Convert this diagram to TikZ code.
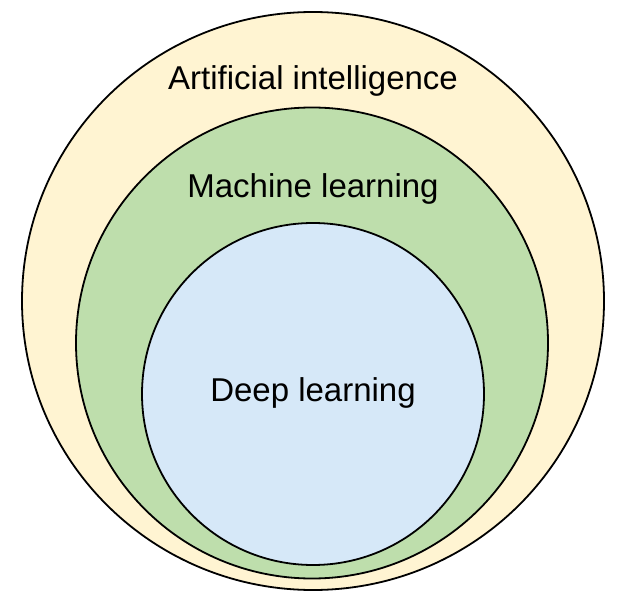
\documentclass[tikz,border=0pt]{standalone}
\usepackage{fontspec}
\setmainfont{Liberation Sans}
\usetikzlibrary{shapes.geometric}
\definecolor{aiyellow}{RGB}{255,244,210}
\definecolor{mlgreen}{RGB}{190,222,172}
\definecolor{dlblue}{RGB}{214,232,248}
\begin{document}
\begin{tikzpicture}
            [x=1pt,y=-1pt,
             ring/.style ={draw,ellipse,line width=1.8pt,inner sep=0pt},
             lbl/.style ={font=\fontsize{33}{36}\selectfont}]
            \useasboundingbox (0,0) rectangle (627,599);
            \node[ring,fill=aiyellow,minimum width=582pt,minimum height=578pt] (ai) at (313,301){};
            \node[ring,fill=mlgreen,minimum width=472pt,minimum height=471pt] (ml) at (312,343){};
            \node[ring,fill=dlblue,minimum width=342pt,minimum height=342pt] (dl) at (313,394){};
            \node[lbl] (ait) at (313,81){Artificial intelligence};
            \node[lbl] (mlt) at (313,189){Machine learning};
            \node[lbl] (dlt) at (313,393){Deep learning};
        \end{tikzpicture}
\end{document}
